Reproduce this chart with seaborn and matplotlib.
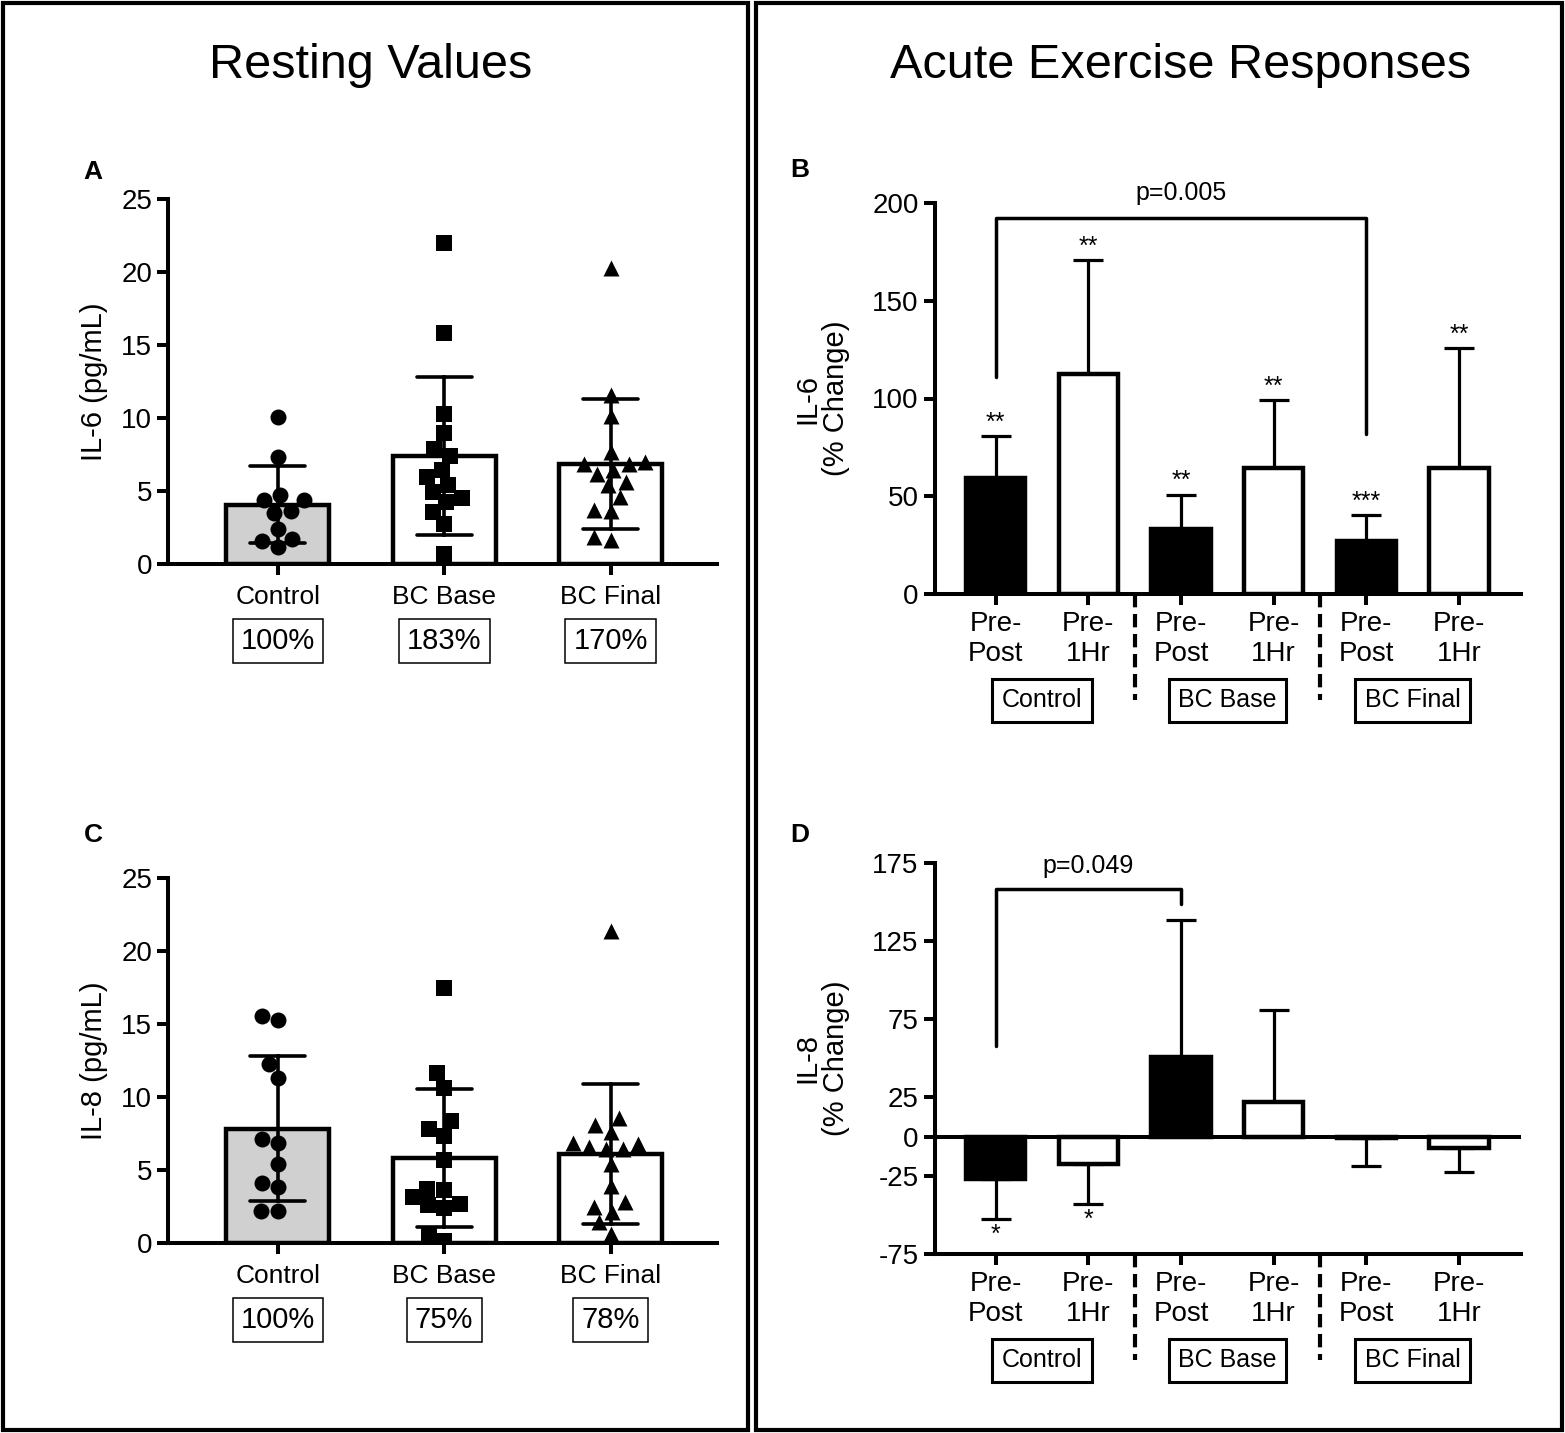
import numpy as np
import pandas as pd
import matplotlib
matplotlib.use("Agg")
import matplotlib.pyplot as plt
import seaborn as sns
from matplotlib.patches import Rectangle

sns.set_style("ticks")
plt.rcParams['font.family'] = ['Liberation Sans', 'DejaVu Sans']
plt.rcParams.update({"text.color": "black", "axes.labelcolor": "black", "xtick.color": "black",
                     "ytick.color": "black", "axes.edgecolor": "black", "axes.unicode_minus": False})

groups = ["Control", "BC Base", "BC Final"]

# resting values, one value per subject (pg/mL)
il6_control = [10.05, 7.31, 4.76, 4.35, 4.35, 3.48, 3.66, 2.41, 1.15, 1.56, 1.68]
il6_bc_base = [22.0, 15.85, 10.29, 8.96, 7.89, 7.43, 6.45, 5.42, 5.95, 4.92, 4.53, 4.23, 3.55, 2.75, 0.7]
il6_bc_final = [20.3, 11.6, 10.17, 7.66, 6.86, 6.86, 6.97, 6.45, 6.18, 5.6, 5.38, 4.58, 3.73, 3.66, 1.61, 1.88]
il8_control = [15.26, 15.54, 12.23, 11.28, 7.1, 6.84, 5.42, 3.83, 4.12, 2.22, 2.22]
il8_bc_base = [17.48, 11.64, 10.64, 8.33, 7.33, 7.78, 5.68, 3.71, 2.6, 3.12, 3.6, 2.37, 2.65, 0.64, 0.17]
il8_bc_final = [21.38, 8.55, 8.09, 7.62, 6.81, 6.46, 6.46, 6.57, 6.85, 5.41, 3.89, 2.84, 2.49, 2.14, 1.45, 0.63]
il6_pct = ["100%", "183%", "170%"]
il8_pct = ["100%", "75%", "78%"]

# acute exercise responses (% change): mean and SD
conditions = ["Pre-\nPost", "Pre-\n1Hr"] * 3
il6_change = [59.2, 112.3, 33.0, 64.5, 27.3, 64.5]
il6_sd = [21.4, 58.3, 17.7, 34.5, 12.9, 61.1]
il6_stars = ["**", "**", "**", "**", "***", "**"]
il8_change = [-26.8, -17.8, 50.8, 22.4, -1.0, -7.1]
il8_sd = [26.0, 25.5, 87.5, 58.5, 18.0, 15.4]
il8_stars = ["*", "*", "", "", "", ""]

W, H = 1565, 1433
fig = plt.figure(figsize=(W / 100, H / 100), dpi=100)


def style_axis(ax):
    sns.despine(ax=ax)
    for s in ["left", "bottom"]:
        ax.spines[s].set_linewidth(2.9)
    ax.tick_params(width=2.9, length=8, labelsize=20, colors="black")
    ax.set_xlabel("")


def resting_panel(ax, data, pct, ylabel):
    df = pd.DataFrame({"group": np.repeat(groups, [len(d) for d in data]),
                       "value": np.concatenate(data)})
    sns.barplot(data=df, x="group", y="value", order=groups, hue="group",
                palette=["#d0d0d0", "white", "white"], errorbar="sd", capsize=0.33,
                width=0.62, edgecolor="black", linewidth=3.2, legend=False,
                err_kws={"color": "black", "linewidth": 2.6}, ax=ax)
    for g, m in zip(groups, ["o", "s", "^"]):
        sns.swarmplot(data=df[df.group == g], x="group", y="value", order=groups,
                      marker=m, color="black", size=11.5, zorder=3, ax=ax)
    style_axis(ax)
    ax.set_ylim(0, 25)
    ax.set_yticks([0, 5, 10, 15, 20, 25])
    ax.set_xlim(-0.66, 2.64)
    ax.set_xticks(range(3))
    ax.set_xticklabels(groups, fontsize=19)
    ax.tick_params(axis="x", pad=7)
    ax.set_ylabel(ylabel, fontsize=21)
    ax.yaxis.set_label_coords(-0.109, 0.5)
    for i, p in enumerate(pct):
        ax.text(i, -0.211, p, transform=ax.get_xaxis_transform(), ha="center", va="center",
                fontsize=21, bbox=dict(boxstyle="square,pad=0.28", fc="white", ec="black", lw=1.1))


def acute_panel(ax, means, sds, stars, ylim, yticks, ylabel):
    keys = [f"{g} {c}" for g in groups for c in ["pp", "1h"]]
    sns.barplot(x=keys, y=means, hue=keys, palette=["black", "white"] * 3, width=0.64,
                edgecolor="black", linewidth=3.2, legend=False, ax=ax)
    means = np.array(means)
    sds = np.array(sds)
    lower = np.where(means < 0, sds, 0)
    upper = np.where(means >= 0, sds, 0)
    ax.errorbar(range(len(means)), means, yerr=[lower, upper], fmt="none", ecolor="black",
                elinewidth=2.3, capsize=11, capthick=2.3, zorder=0.5)
    for i, (m, s, st) in enumerate(zip(means, sds, stars)):
        if not st:
            continue
        if m >= 0:
            ax.text(i, m + s + 1, st, ha="center", va="bottom", fontsize=18)
        else:
            ax.text(i, m - s - 2, st, ha="center", va="top", fontsize=18)
    style_axis(ax)
    ax.set_ylim(*ylim)
    ax.set_yticks(yticks)
    ax.set_xlim(-0.66, 5.67)
    ax.set_xticks(range(6))
    ax.set_xticklabels(conditions, fontsize=20)
    ax.tick_params(axis="x", pad=4)
    ax.set_ylabel(ylabel, fontsize=21, linespacing=1.05)
    ax.yaxis.set_label_coords(-0.144, 0.5)
    xt = ax.get_xaxis_transform()
    for x in [1.5, 3.5]:
        ax.plot([x, x], [0, -0.27], transform=xt, color="black", lw=3,
                ls=(0, (3.2, 1.6)), clip_on=False)
    for i, g in enumerate(groups):
        ax.text(2 * i + 0.5, -0.272, g, transform=xt, ha="center", va="center", fontsize=18,
                bbox=dict(boxstyle="square,pad=0.38", fc="white", ec="black", lw=2.2))


# panel A
axA = fig.add_axes([168 / W, 1 - 564 / H, 549 / W, 365 / H])
resting_panel(axA, [il6_control, il6_bc_base, il6_bc_final], il6_pct, "IL-6 (pg/mL)")

# panel C
axC = fig.add_axes([168 / W, 1 - 1243 / H, 549 / W, 365 / H])
resting_panel(axC, [il8_control, il8_bc_base, il8_bc_final], il8_pct, "IL-8 (pg/mL)")

# panel B
axB = fig.add_axes([934.5 / W, 1 - 594 / H, 586.5 / W, 391 / H])
acute_panel(axB, il6_change, il6_sd, il6_stars, (0, 200), [0, 50, 100, 150, 200], "IL-6\n(% Change)")
axB.plot([0, 0, 4, 4], [111, 192.4, 192.4, 82], color="black", lw=2.5, clip_on=False)
axB.text(2, 205, "p=0.005", ha="center", va="center", fontsize=18)

# panel D
axD = fig.add_axes([934.5 / W, 1 - 1254 / H, 586.5 / W, 391.4 / H])
acute_panel(axD, il8_change, il8_sd, il8_stars, (-75, 175), [-75, -25, 0, 25, 75, 125, 175], "IL-8\n(% Change)")
axD.axhline(0, color="black", lw=2.9, zorder=2)
axD.plot([0, 0, 2, 2], [57.9, 158.4, 158.4, 148.3], color="black", lw=2.5, clip_on=False)
axD.text(1, 173, "p=0.049", ha="center", va="center", fontsize=18)

# titles, panel letters, frames
fig.text(371 / W, 1 - 65 / H, "Resting Values", ha="center", va="center", fontsize=35)
fig.text(1181 / W, 1 - 65 / H, "Acute Exercise Responses", ha="center", va="center", fontsize=35)
for lab, x, y in [("A", 93, 172), ("B", 800, 170), ("C", 93, 835), ("D", 800, 835)]:
    fig.text(x / W, 1 - y / H, lab, ha="center", va="center", fontsize=19, fontweight="bold")
fig.add_artist(Rectangle((3 / W, 3 / H), 745 / W, 1427 / H, transform=fig.transFigure,
                         fill=False, lw=3, ec="black"))
fig.add_artist(Rectangle((756 / W, 3 / H), 806 / W, 1427 / H, transform=fig.transFigure,
                         fill=False, lw=3, ec="black"))

fig.savefig("out.png", dpi=100)
